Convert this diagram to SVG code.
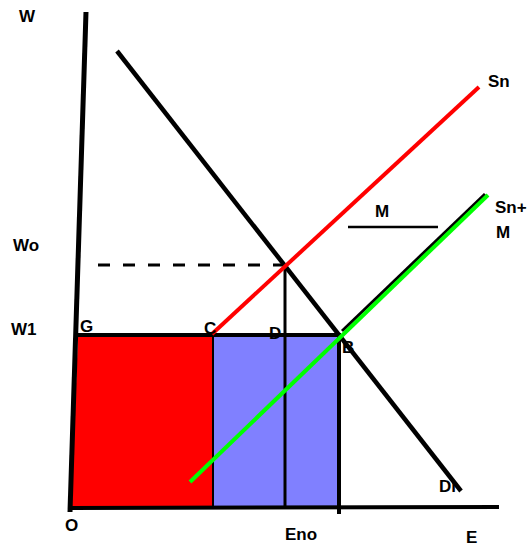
<svg xmlns="http://www.w3.org/2000/svg" width="529" height="548" viewBox="0 0 529 548">
<style>
.t{font-family:"Liberation Sans",Arial,sans-serif;font-weight:bold;font-size:17px;fill:#000}
.k{stroke:#000;fill:none;stroke-linecap:butt}
</style>
<rect width="529" height="548" fill="#fff"/>
<g id="areas">
<polygon id="red-area" points="78,335 213,335 213,508 71,508" fill="#ff0000"/>
<rect id="blue-area" x="213" y="335" width="126" height="173" fill="#8080ff"/>
</g>
<g id="connectors">
<line class="k" x1="86" y1="12" x2="70" y2="512" stroke-width="5"/>
<line class="k" x1="70" y1="508" x2="499" y2="507" stroke-width="4"/>
<line class="k" x1="76" y1="335" x2="341" y2="335" stroke-width="4"/>
<line class="k" x1="213" y1="335" x2="213" y2="508" stroke-width="2"/>
<line class="k" x1="339" y1="333" x2="339" y2="514" stroke-width="4"/>
<line class="k" x1="285" y1="265" x2="285" y2="508" stroke-width="3"/>
<line class="k" x1="98" y1="265" x2="285" y2="265" stroke-width="3" stroke-dasharray="12 13"/>
<line class="k" x1="117" y1="51" x2="461" y2="491" stroke-width="4.5"/>
<line class="k" x1="342" y1="331" x2="485" y2="194" stroke-width="3"/>
<line x1="212" y1="334" x2="479" y2="87" stroke="#ff0000" stroke-width="4"/>
<line x1="190" y1="482" x2="488" y2="195" stroke="#00ff00" stroke-width="4"/>
<line class="k" x1="348" y1="227" x2="438" y2="227" stroke-width="2.5"/>
</g>
<g id="labels">
<text class="t" x="19" y="22">W</text>
<text class="t" x="13" y="251">Wo</text>
<text class="t" x="11" y="335">W1</text>
<text class="t" x="80" y="332">G</text>
<text class="t" x="204" y="334">C</text>
<text class="t" x="269" y="339">D</text>
<text class="t" x="342" y="353">B</text>
<text class="t" x="65" y="531">O</text>
<text class="t" x="285" y="540">Eno</text>
<text class="t" x="466" y="543" font-size="19">E</text>
<text class="t" x="439" y="492" font-size="20">Di</text>
<text class="t" x="488" y="87">Sn</text>
<text class="t" x="375" y="217">M</text>
<text class="t" x="495" y="213">Sn+</text>
<text class="t" x="496" y="238">M</text>
</g>
</svg>
